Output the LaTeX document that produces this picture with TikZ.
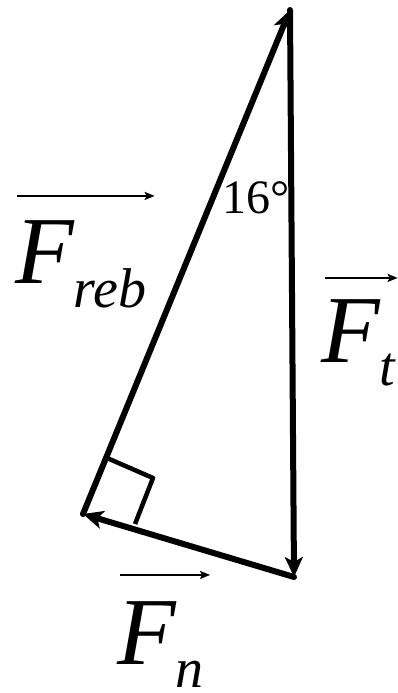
\documentclass[tikz,border=0pt]{standalone}
\usepackage{fontspec}
\setmainfont{Liberation Serif}
\usetikzlibrary{arrows.meta}
\newcommand{\lowsub}[2]{\raisebox{-#1pt}{\fontsize{56}{56}\selectfont #2}}
\tikzset{
  force/.style={line width=6pt, line cap=round, -{Stealth[length=20pt,width=18pt,inset=5pt]}},
  vecbar/.style={line width=1.8pt, -{Stealth[length=10pt,width=8pt,inset=2pt]}},
  bigF/.style={inner sep=0pt, anchor=base west, font=\fontsize{96}{96}\selectfont\itshape},
}
\begin{document}
\begin{tikzpicture}[x=1pt, y=-1pt, line join=round]
	\useasboundingbox (0,0) rectangle (398,693);
	% the three force vectors
	\coordinate (T) at (290,10);
	\coordinate (B) at (294,577);
	\coordinate (L) at (83,514);
	\draw[force] (T) -- (B);
	\draw[force] (B) -- (L);
	\draw[force] (L) -- (T);
	% right angle mark
	\coordinate (R1) at (107,458);
	\coordinate (R2) at (153,478);
	\coordinate (R3) at (135,524);
	\draw[line width=4.5pt] (R1) -- (R2) -- (R3);
	% angle
	\node[inner sep=0pt, anchor=base west, font=\fontsize{48}{48}\selectfont] (ang) at (222,213) {16°};
	% labels
	\node[bigF] (freb) at (15,283) {F\lowsub{24}{reb}};
	\node[bigF] (ft) at (321,362) {F\lowsub{23}{t}};
	\node[bigF] (fn) at (117,664) {F\lowsub{23}{n}};
	\draw[vecbar] ([xshift=2pt, yshift=24pt]freb.north west) -- ([xshift=8pt, yshift=24pt]freb.north east);
	\draw[vecbar] ([xshift=4pt, yshift=21pt]ft.north west) -- ([xshift=2pt, yshift=21pt]ft.north east);
	\draw[vecbar] ([xshift=3pt, yshift=26pt]fn.north west) -- ([xshift=6pt, yshift=26pt]fn.north east);
\end{tikzpicture}
\end{document}
